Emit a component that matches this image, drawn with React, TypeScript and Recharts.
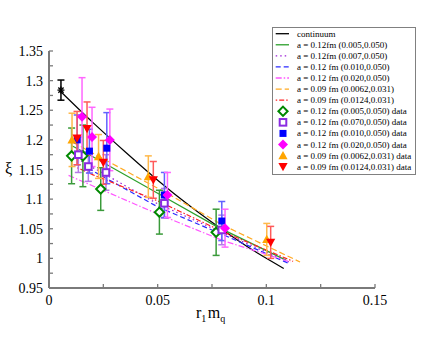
import React from 'react';
import { ComposedChart, Line, Scatter, XAxis, YAxis, ErrorBar, Legend } from 'recharts';

const FONT = '"Liberation Serif", "Times New Roman", Times, serif';
const AXIS_COLOR = '#7a7a7a';

const xTicks = [0, 0.025, 0.05, 0.075, 0.1, 0.125, 0.15];
const yTicks = [0.95, 0.975, 1, 1.025, 1.05, 1.075, 1.1, 1.125, 1.15, 1.175, 1.2, 1.225, 1.25, 1.275, 1.3, 1.325, 1.35];
const xLabelTicks = [0, 0.05, 0.1, 0.15];
const yLabelTicks = [0.95, 1, 1.05, 1.1, 1.15, 1.2, 1.25, 1.3, 1.35];

// fitted curves
const continuumCurve = [
  { x: 0.005, y: 1.283 }, { x: 0.02, y: 1.23 }, { x: 0.035, y: 1.18 }, { x: 0.05, y: 1.132 },
  { x: 0.065, y: 1.088 }, { x: 0.08, y: 1.048 }, { x: 0.095, y: 1.011 }, { x: 0.108, y: 0.983 },
];
const fit005 = [{ x: 0.0105, y: 1.19 }, { x: 0.02, y: 1.172 }, { x: 0.05, y: 1.11 }, { x: 0.077, y: 1.054 }, { x: 0.109, y: 0.997 }];
const fit007 = [{ x: 0.013, y: 1.168 }, { x: 0.05, y: 1.092 }, { x: 0.08, y: 1.043 }, { x: 0.111, y: 0.993 }];
const fit010 = [{ x: 0.018, y: 1.152 }, { x: 0.05, y: 1.087 }, { x: 0.08, y: 1.04 }, { x: 0.11, y: 0.992 }];
const fit020 = [{ x: 0.009, y: 1.14 }, { x: 0.05, y: 1.075 }, { x: 0.08, y: 1.03 }, { x: 0.111, y: 0.994 }];
const fit0062 = [{ x: 0.011, y: 1.196 }, { x: 0.0235, y: 1.171 }, { x: 0.0557, y: 1.107 }, { x: 0.08, y: 1.056 }, { x: 0.1155, y: 0.994 }];
const fit0124 = [{ x: 0.013, y: 1.153 }, { x: 0.0203, y: 1.141 }, { x: 0.05, y: 1.097 }, { x: 0.08, y: 1.045 }, { x: 0.1123, y: 0.995 }];

// data points (x, y, error)
const continuumPoint = [{ x: 0.0055, y: 1.284, e: 0.017 }];
const data005 = [
  { x: 0.0104, y: 1.173, e: 0.047 }, { x: 0.0156, y: 1.173, e: 0.052 }, { x: 0.0238, y: 1.117, e: 0.036 },
  { x: 0.0508, y: 1.078, e: 0.037 }, { x: 0.0769, y: 1.044, e: 0.039 },
];
const data007 = [
  { x: 0.0135, y: 1.175, e: 0.03 }, { x: 0.0181, y: 1.155, e: 0.025 }, { x: 0.0262, y: 1.145, e: 0.03 },
  { x: 0.0531, y: 1.093, e: 0.025 }, { x: 0.0795, y: 1.048, e: 0.025 },
];
const data010 = [
  { x: 0.013, y: 1.2, e: 0.042 }, { x: 0.0186, y: 1.181, e: 0.037 }, { x: 0.0266, y: 1.186, e: 0.06 },
  { x: 0.0531, y: 1.107, e: 0.038 }, { x: 0.0795, y: 1.063, e: 0.033 },
];
const data020 = [
  { x: 0.0152, y: 1.239, e: 0.066 }, { x: 0.0198, y: 1.205, e: 0.05 }, { x: 0.028, y: 1.2, e: 0.052 },
  { x: 0.0545, y: 1.107, e: 0.038 }, { x: 0.081, y: 1.051, e: 0.032 },
];
const data0062 = [
  { x: 0.0106, y: 1.2, e: 0.045 }, { x: 0.0228, y: 1.172, e: 0.037 },
  { x: 0.0457, y: 1.138, e: 0.035 }, { x: 0.1002, y: 1.032, e: 0.027 },
];
const data0124 = [
  { x: 0.0129, y: 1.203, e: 0.045 }, { x: 0.0175, y: 1.219, e: 0.045 }, { x: 0.025, y: 1.162, e: 0.037 },
  { x: 0.048, y: 1.1325, e: 0.031 }, { x: 0.102, y: 1.027, e: 0.027 },
];

const LINE_SERIES = [
  { name: 'continuum', data: continuumCurve, color: '#000000', dash: undefined as string | undefined, curve: 'monotone' },
  { name: 'a = 0.12fm (0.005,0.050)', data: fit005, color: '#2ca02c', dash: undefined, curve: 'linear' },
  { name: 'a = 0.12fm (0.007,0.050)', data: fit007, color: '#9b1fd6', dash: '1.5 3', curve: 'linear' },
  { name: 'a = 0.12 fm (0.010,0.050)', data: fit010, color: '#2a2aff', dash: '5 3', curve: 'linear' },
  { name: 'a = 0.12 fm (0.020,0.050)', data: fit020, color: '#ff55ff', dash: '6 2 1.5 2', curve: 'linear' },
  { name: 'a = 0.09 fm (0.0062,0.031)', data: fit0062, color: '#ffaa22', dash: '6 3', curve: 'linear' },
  { name: 'a = 0.09 fm (0.0124,0.031)', data: fit0124, color: '#ff2020', dash: '1.5 2 5 2', curve: 'linear' },
];

type Kind = 'star' | 'openDiamond' | 'openSquare' | 'square' | 'diamond' | 'triUp' | 'triDown';

const POINT_SERIES: { name: string; data: any[]; color: string; bar: string; kind: Kind; legend: boolean }[] = [
  { name: 'continuum point', data: continuumPoint, color: '#000000', bar: '#000000', kind: 'star', legend: false },
  { name: 'a = 0.12 fm (0.005,0.050) data', data: data005, color: '#008800', bar: '#3a9a3a', kind: 'openDiamond', legend: true },
  { name: 'a = 0.12 fm (0.070,0.050) data', data: data007, color: '#8a2be2', bar: '#b57ae8', kind: 'openSquare', legend: true },
  { name: 'a = 0.12 fm (0.010,0.050) data', data: data010, color: '#0000ff', bar: '#6262ff', kind: 'square', legend: true },
  { name: 'a = 0.12 fm (0.020,0.050) data', data: data020, color: '#ff00ff', bar: '#ff66ff', kind: 'diamond', legend: true },
  { name: 'a = 0.09 fm (0.0062,0.031) data', data: data0062, color: '#ffa500', bar: '#ffb84a', kind: 'triUp', legend: true },
  { name: 'a = 0.09 fm (0.0124,0.031) data', data: data0124, color: '#ff0000', bar: '#ff5a5a', kind: 'triDown', legend: true },
];

const Marker = ({ cx, cy, kind, color }: { cx: number; cy: number; kind: Kind; color: string }) => {
  if (cx == null || cy == null || isNaN(cx) || isNaN(cy)) return null;
  switch (kind) {
    case 'star': {
      const r = 3.5;
      return (
        <g stroke={color} strokeWidth={1.3}>
          <line x1={cx - r} y1={cy} x2={cx + r} y2={cy} />
          <line x1={cx} y1={cy - r} x2={cx} y2={cy + r} />
          <line x1={cx - r * 0.75} y1={cy - r * 0.75} x2={cx + r * 0.75} y2={cy + r * 0.75} />
          <line x1={cx - r * 0.75} y1={cy + r * 0.75} x2={cx + r * 0.75} y2={cy - r * 0.75} />
        </g>
      );
    }
    case 'openDiamond': {
      const r = 4.6;
      return <polygon points={`${cx},${cy - r} ${cx + r},${cy} ${cx},${cy + r} ${cx - r},${cy}`} fill="#ffffff" stroke={color} strokeWidth={2} />;
    }
    case 'openSquare': {
      const r = 3.3;
      return <rect x={cx - r} y={cy - r} width={2 * r} height={2 * r} fill="#ffffff" stroke={color} strokeWidth={2} />;
    }
    case 'square': {
      const r = 3.5;
      return <rect x={cx - r} y={cy - r} width={2 * r} height={2 * r} fill={color} />;
    }
    case 'diamond': {
      const r = 5;
      return <polygon points={`${cx},${cy - r} ${cx + r},${cy} ${cx},${cy + r} ${cx - r},${cy}`} fill={color} />;
    }
    case 'triUp': {
      const r = 4.6;
      return <polygon points={`${cx},${cy - r} ${cx + r},${cy + r * 0.8} ${cx - r},${cy + r * 0.8}`} fill={color} />;
    }
    case 'triDown': {
      const r = 4.6;
      return <polygon points={`${cx},${cy + r} ${cx + r},${cy - r * 0.8} ${cx - r},${cy - r * 0.8}`} fill={color} />;
    }
  }
  return null;
};

const near = (v: number, list: number[]) => list.some((t) => Math.abs(t - v) < 1e-9);
const fmt = (v: number) => String(Number(v.toFixed(3)));

const BottomTick = (props: any) => {
  const { x, y, payload } = props;
  const v = payload.value;
  return (
    <g>
      <line x1={x} y1={y} x2={x} y2={y - 4} stroke={AXIS_COLOR} strokeWidth={1.3} />
      {near(v, xLabelTicks) && (
        <text x={x} y={y + 17} textAnchor="middle" fontSize={14} fontFamily={FONT} fill="#000">{fmt(v)}</text>
      )}
    </g>
  );
};
const TopTick = (props: any) => {
  const { x, y } = props;
  return <line x1={x} y1={y} x2={x} y2={y + 4} stroke={AXIS_COLOR} strokeWidth={1.3} />;
};
const LeftTick = (props: any) => {
  const { x, y, payload } = props;
  const v = payload.value;
  return (
    <g>
      <line x1={x} y1={y} x2={x + 4} y2={y} stroke={AXIS_COLOR} strokeWidth={1.3} />
      {near(v, yLabelTicks) && (
        <text x={x - 6} y={y + 5} textAnchor="end" fontSize={14} fontFamily={FONT} fill="#000">{fmt(v)}</text>
      )}
    </g>
  );
};
const RightTick = (props: any) => {
  const { x, y } = props;
  return <line x1={x} y1={y} x2={x - 4} y2={y} stroke={AXIS_COLOR} strokeWidth={1.3} />;
};

const LegendBox = () => {
  const rowY = (i: number) => 6.7 + 11.08 * i;
  const pts = POINT_SERIES.filter((s) => s.legend);
  return (
    <svg width={144} height={148} style={{ display: 'block' }}>
      <rect x={0.5} y={0.5} width={143} height={147} fill="#ffffff" stroke="#808080" strokeWidth={1} />
      {LINE_SERIES.map((s, i) => (
        <g key={s.name}>
          <line x1={3.7} x2={17} y1={rowY(i)} y2={rowY(i)} stroke={s.color} strokeWidth={1.3} strokeDasharray={s.dash} />
          <text x={25} y={rowY(i) + 3} fontSize={9} fontFamily={FONT} fill="#000">{s.name}</text>
        </g>
      ))}
      {pts.map((s, j) => {
        const i = j + LINE_SERIES.length;
        return (
          <g key={s.name}>
            <Marker cx={11} cy={rowY(i)} kind={s.kind} color={s.color} />
            <text x={25} y={rowY(i) + 3} fontSize={9} fontFamily={FONT} fill="#000">{s.name}</text>
          </g>
        );
      })}
    </svg>
  );
};

const XLabel = () => (
  <text x={196} y={318} fontSize={16} fontFamily={FONT} fill="#000">
    r<tspan fontSize={10} dy={4}>1</tspan>
    <tspan fontSize={16} dy={-4} dx={1.5}>m</tspan>
    <tspan fontSize={10} dy={4}>q</tspan>
  </text>
);
const YLabel = () => (
  <text x={5} y={174} fontSize={16} fontFamily={FONT} fill="#000">ξ</text>
);

export default function App() {
  return (
    <div style={{ position: 'absolute', left: 0, top: 0, width: 440, height: 340, background: '#fff' }}>
      <ComposedChart width={440} height={340} margin={{ top: 51, right: 65, bottom: 22, left: 0 }}>
        <XAxis
          xAxisId="b" dataKey="x" type="number" domain={[0, 0.15]} ticks={xTicks} interval={0}
          allowDataOverflow height={30} tickSize={0} tickMargin={0} tickLine={false}
          axisLine={{ stroke: AXIS_COLOR, strokeWidth: 2 }} tick={<BottomTick />} label={{ content: <XLabel /> }}
        />
        <XAxis
          xAxisId="t" orientation="top" dataKey="x" type="number" domain={[0, 0.15]} ticks={xTicks} interval={0}
          allowDataOverflow height={0} tickSize={0} tickMargin={0} tickLine={false}
          axisLine={{ stroke: AXIS_COLOR, strokeWidth: 2 }} tick={<TopTick />}
        />
        <YAxis
          yAxisId="l" dataKey="y" type="number" domain={[0.95, 1.35]} ticks={yTicks} interval={0}
          allowDataOverflow width={49} tickSize={0} tickMargin={0} tickLine={false}
          axisLine={{ stroke: AXIS_COLOR, strokeWidth: 2 }} tick={<LeftTick />} label={{ content: <YLabel /> }}
        />
        <YAxis
          yAxisId="r" orientation="right" dataKey="y" type="number" domain={[0.95, 1.35]} ticks={yTicks} interval={0}
          allowDataOverflow width={0} tickSize={0} tickMargin={0} tickLine={false}
          axisLine={{ stroke: AXIS_COLOR, strokeWidth: 2 }} tick={<RightTick />}
        />
        {LINE_SERIES.map((s) => (
          <Line
            key={s.name} xAxisId="b" yAxisId="l" data={s.data} dataKey="y" type={s.curve as any}
            stroke={s.color} strokeWidth={1.2} strokeDasharray={s.dash} dot={false} activeDot={false}
            isAnimationActive={false} legendType="none"
          />
        ))}
        {POINT_SERIES.map((s) => (
          <Scatter
            key={s.name} xAxisId="b" yAxisId="l" data={s.data} dataKey="y" isAnimationActive={false}
            legendType="none"
            shape={(p: any) => <Marker cx={p.cx} cy={p.cy} kind={s.kind} color={s.color} />}
          >
            <ErrorBar dataKey="e" direction="y" width={3.5} stroke={s.bar} strokeWidth={1.5} isAnimationActive={false} />
          </Scatter>
        ))}
        <Legend
          layout="vertical" align="center" verticalAlign="middle" content={<LegendBox />}
          wrapperStyle={{ position: 'absolute', left: 272, top: 27, width: 144, height: 148 }}
        />
      </ComposedChart>
    </div>
  );
}
